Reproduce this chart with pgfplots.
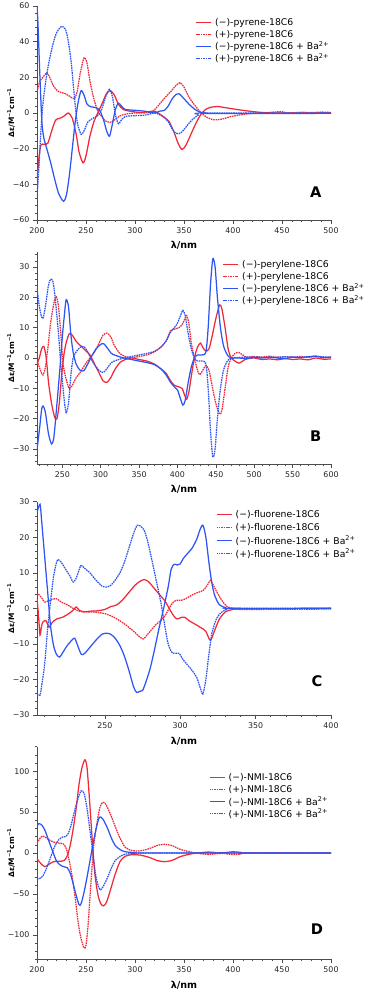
\documentclass[border=0pt]{standalone}
\usepackage{fontspec}
\setmainfont{DejaVu Sans}
\usepackage{pgfplots}
\pgfplotsset{compat=1.18}
\definecolor{cdred}{RGB}{240,40,55}
\definecolor{cdblue}{RGB}{45,85,245}

\tikzset{
  cdneg/.style={cdred, solid},
  cdpos/.style={cdred, dash pattern=on 1.6pt off 0.8pt},
  cdnegba/.style={cdblue, solid},
  cdposba/.style={cdblue, dash pattern=on 1.6pt off 0.8pt},
  legtext/.style={anchor=west, inner sep=0pt, font=\fontsize{9.3}{11}\selectfont},
}
\pgfplotsset{
  cdpanel/.style={
    scale only axis, width=294bp, clip mode=individual,
    axis x line*=bottom, axis y line*=left,
    axis line style={-, draw=black!70, line width=0.6pt},
    tick align=outside, tick style={black!70, line width=0.5pt},
    major tick length=4pt, minor tick length=2.2pt,
    ticklabel style={font=\fontsize{7.9}{9}\selectfont, text=black!85},
    xlabel={\textbf{λ/nm}},
    ylabel={\textbf{Δε/M\textsuperscript{−1}cm\textsuperscript{−1}}},
    xlabel style={font=\fontsize{9.6}{11}\selectfont, anchor=center},
    ylabel style={font=\fontsize{7.5}{9}\selectfont, at={(axis description cs:-0.088,0.5)}, anchor=center},
    every axis plot/.append style={smooth, tension=0.45, line width=1.25pt},
  },
}
% legend drawn by hand (page coordinates in bp, measured from the top):
% #1 x of line start, #2 y of first row, #3 row step, #4 compound
\newcommand{\cdleg}[4]{%
  \foreach \k/\sty/\txt in {0/cdneg/{(−)-#4-18C6}, 1/cdpos/{(+)-#4-18C6},
      2/cdnegba/{(−)-#4-18C6 + Ba\textsuperscript{2+}}, 3/cdposba/{(+)-#4-18C6 + Ba\textsuperscript{2+}}}{
    \draw[\sty, line width=1.6pt] (#1bp,{992bp-#2bp-\k*#3bp}) -- ++(15bp,0pt);
    \node[legtext] at ({#1bp+19bp},{992bp-#2bp-\k*#3bp}) {\txt};
  }%
}

\begin{document}
\begin{tikzpicture}
\useasboundingbox (0,0) rectangle (369bp,992bp);

% ---- A: pyrene
\begin{axis}[cdpanel, at={(37bp,772bp)}, anchor=south west, height=214bp,
  xmin=200, xmax=500, ymin=-60, ymax=60,
  xtick={200,250,...,500}, xticklabels={200,250,300,350,400,450,500},
  minor xtick={200,210,...,500},
  ytick={-60,-40,...,60}, yticklabels={−60,−40,−20,0,20,40,60},
  minor ytick={-60,-56,...,60},
  xlabel style={at={(axis description cs:0.5,-0.117)}}]
\addplot[cdneg] coordinates {(200,-38) (202,-25) (204,-18) (207,-17.5) (211,-17) (215,-10) (219,-4) (223,-3) (227,-2) (232,0) (236,-3) (240,-12) (243,-22) (247,-28) (250,-24) (254,-13) (258,-5) (262,0) (267,6) (271,11) (275,12.5) (279,10) (283,5) (288,2) (295,1) (305,0.3) (315,0.8) (320,1) (325,-0.5) (330,-2.5) (335,-5) (340,-11) (344,-17) (348,-20.5) (352,-18) (357,-12) (362,-6) (367,-1) (372,2) (378,3.3) (385,3.6) (392,3) (400,2.3) (410,1.5) (420,0.8) (430,0.3) (445,0) (500,0)};
\addplot[cdpos] coordinates {(200,12) (203,18) (206,20) (210,22.5) (213,20) (217,15) (222,12) (228,11) (233,9.5) (238,8) (241,12) (244,22) (248,31) (251,28) (254,18) (258,8) (262,1) (266,-2) (270,-4.5) (275,-5.2) (280,-3.5) (285,-1.5) (292,-0.5) (300,0) (310,0) (318,1) (322,3) (328,7) (333,10) (338,13) (342,15.5) (346,17) (350,14.5) (355,9) (360,5) (366,1) (372,-2) (380,-3.8) (388,-3.5) (398,-2) (410,-0.8) (420,-0.2) (430,0) (450,0.8) (455,0) (470,0.4) (480,0.2) (490,0.5) (500,0.3)};
\addplot[cdnegba] coordinates {(200,60) (201,50) (203,20) (205,-5) (207,-14) (210,-20) (214,-28) (218,-37) (222,-45) (227,-49.5) (230,-46) (233,-35) (236,-20) (239,-5) (242,6) (245,12.5) (248,10) (251,5) (255,3.5) (260,3) (264,1.5) (268,-4) (271,-10) (274,-13) (277,-6) (280,2) (283,5.5) (286,4) (290,2) (300,1.5) (310,1) (320,0) (325,1) (330,1.5) (334,4) (338,8) (342,10.5) (345,10.8) (350,8) (355,5) (360,2.5) (366,0.5) (372,0) (380,-0.3) (500,-0.2)};
\addplot[cdposba] coordinates {(200,-47) (202,-30) (204,-10) (206,5) (209,18) (212,28) (216,38) (220,45) (225,48.5) (229,47) (232,40) (235,28) (238,10) (241,-5) (245,-12) (248,-10) (252,-5) (257,-3) (262,-1.5) (266,2) (270,9) (274,13.3) (277,9) (280,-1) (283,-6) (286,-4) (290,-2) (300,-1.5) (310,-1.2) (320,0) (325,-1) (330,-2.5) (334,-5) (338,-9) (341,-11) (345,-11.6) (349,-10) (354,-6.5) (359,-3.5) (365,-1) (370,0) (500,0)};
\node[font=\bfseries\fontsize{14.7}{15}\selectfont] at (rel axis cs:0.948,0.131) {A};
\end{axis}

% ---- B: perylene
\begin{axis}[cdpanel, at={(37bp,527.7bp)}, anchor=south west, height=212.6bp,
  xmin=217, xmax=600, ymin=-35, ymax=35,
  xtick={250,300,...,600}, xticklabels={250,300,350,400,450,500,550,600},
  minor xtick={220,230,...,600},
  ytick={-30,-20,...,30}, yticklabels={−30,−20,−10,0,10,20,30},
  minor ytick={-34,-32,...,34},
  xlabel style={at={(axis description cs:0.5,-0.117)}}]
\addplot[cdneg] coordinates {(217,-2) (220,0) (223,3) (226,3.8) (229,0) (232,-8) (236,-15) (240,-19.5) (243,-20) (246,-15) (249,-6) (252,1) (255,5) (259,8) (263,7.5) (268,5.5) (274,4) (280,2.5) (286,1) (292,-2) (298,-5) (303,-7.5) (308,-8) (313,-6.5) (318,-4) (325,-1.5) (332,-0.5) (340,0) (350,-0.5) (360,-1) (370,-2) (378,-3.5) (385,-5) (391,-7.5) (396,-9) (402,-9.5) (406,-10) (409,-12) (412,-13.6) (415,-11) (418,-6) (422,0) (426,3.5) (430,4.9) (433,3.5) (437,2.3) (441,3) (445,7) (450,13) (455,17.5) (458,16) (462,10) (466,3) (470,0) (475,-1) (480,-1.7) (485,-1) (490,-0.3) (500,0) (510,-0.5) (520,-0.3) (530,-0.6) (540,-0.2) (550,-0.5) (560,-0.3) (570,-0.6) (580,0) (590,-0.4) (600,-0.3)};
\addplot[cdpos] coordinates {(217,-1) (220,-3) (223,-5) (225,-5.6) (228,-3) (231,3) (235,12) (239,18) (242,20.3) (245,17) (248,8) (251,-2) (255,-7) (259,-10) (263,-9) (268,-6.5) (274,-4.5) (280,-2) (286,0) (292,2) (298,5) (303,7.5) (308,8.2) (313,7) (318,4) (325,1.5) (332,0.5) (340,0) (350,0.5) (360,1) (370,2) (378,3.5) (385,5.5) (391,9) (396,9.5) (402,10) (406,11) (409,12.5) (412,14) (415,11) (418,5) (422,0) (426,-4) (429,-5.5) (433,-4) (437,-2.5) (441,-4) (445,-9) (450,-15) (455,-18.5) (458,-17) (462,-10) (466,-3) (470,0) (475,1.5) (480,1.8) (485,1) (490,0.3) (500,0.5) (510,0.3) (520,0.6) (530,0.2) (540,0.4) (550,0.2) (560,0.5) (570,0.2) (580,0.6) (590,0.1) (600,0.3)};
\addplot[cdnegba] coordinates {(217,-30) (220,-24) (223,-17) (225,-15.8) (228,-18) (232,-25) (236,-28.3) (239,-26) (243,-15) (247,-3) (250,7) (253,15) (255,19.2) (258,17) (261,8) (264,2) (268,-2) (273,-4) (278,-4.2) (283,-2) (288,0.5) (294,3) (300,4.5) (304,4.7) (308,3.5) (314,1.5) (320,0.8) (330,0) (340,-0.5) (350,-1) (360,-1.5) (370,-2.2) (378,-3.5) (385,-5.5) (391,-8) (396,-9.5) (400,-10.5) (404,-13.5) (407,-15.5) (410,-14) (414,-8) (418,-3) (422,0) (426,1) (432,1) (437,2) (440,10) (443,24) (446,32.6) (449,30) (452,20) (456,10) (460,4) (465,1) (470,0) (480,0) (490,-0.2) (500,0.2) (510,0) (520,0.3) (530,0) (540,-0.2) (550,0.3) (560,0.1) (570,0.4) (580,0.6) (590,0.2) (600,0.3)};
\addplot[cdposba] coordinates {(217,23) (220,17) (223,13.5) (225,13.2) (228,17) (232,24) (235,26) (238,25) (241,19) (245,8) (248,-2) (251,-10) (253,-15) (255,-18) (258,-15) (261,-6) (264,0) (268,2) (273,3.5) (278,3.8) (283,2) (288,-0.5) (294,-3) (300,-4.5) (304,-4.7) (308,-3.5) (314,-1.5) (320,-0.8) (330,0) (340,0.5) (350,1) (360,1.5) (370,2.2) (378,3.5) (385,5.5) (391,8.5) (396,10) (400,11.5) (404,14) (407,15.7) (410,14) (414,8) (418,3) (422,0) (426,-1) (432,-1) (437,-2) (440,-10) (443,-24) (446,-32.5) (449,-30) (452,-20) (456,-10) (460,-4) (465,-1) (470,0) (480,0.2) (500,0.3) (520,0.1) (540,0.4) (560,0.2) (580,0.5) (600,0.2)};
\node[font=\bfseries\fontsize{14.7}{15}\selectfont] at (rel axis cs:0.948,0.13) {B};
\end{axis}

% ---- C: fluorene
\begin{axis}[cdpanel, at={(37bp,277bp)}, anchor=south west, height=213.3bp,
  xmin=205, xmax=400, ymin=-30, ymax=30,
  xtick={250,300,350,400}, xticklabels={250,300,350,400},
  minor xtick={210,220,...,400},
  ytick={-30,-20,...,30}, yticklabels={−30,−20,−10,0,10,20,30},
  minor ytick={-30,-28,...,30},
  xlabel style={at={(axis description cs:0.5,-0.122)}}]
\addplot[cdneg] coordinates {(205,3) (206,-2) (207,-7.5) (208,-5) (209,-3.8) (211,-3.5) (213,-5.3) (215,-4) (218,-3) (222,-2.5) (226,-1.5) (229,-0.5) (231,0.4) (233,-0.5) (236,-1) (240,-0.8) (245,-0.7) (250,-0.3) (254,0.5) (258,1) (262,2.5) (266,4.5) (270,6.5) (273,7.5) (276,8.1) (279,7.5) (282,6) (285,4.5) (288,3) (290,2) (292,0.5) (294,-1) (296,-2.3) (298,-3) (301,-2.5) (303,-2.5) (306,-3.5) (310,-4.5) (314,-5.5) (317,-6.5) (320,-9) (323,-6) (326,-3) (330,-1) (335,-0.3) (340,-0.2) (400,0)};
\addplot[cdpos] coordinates {(205,3.5) (206,4) (208,3) (210,1.8) (212,2) (215,2.5) (218,2.7) (221,1.8) (225,1) (229,0) (233,-0.8) (237,-1) (241,-1) (246,-1.2) (250,-1.5) (255,-2.3) (260,-3.5) (265,-5) (270,-6.8) (273,-8) (275.5,-8.6) (278,-7.5) (281,-6) (284,-4.5) (287,-3.5) (290,-2) (292,-0.5) (294,1) (296,2) (298,2.3) (301,2.3) (304,2.8) (308,3.8) (312,4.5) (315,5) (318,6.5) (320,7.9) (322,6.5) (325,4) (328,2) (331,0.5) (335,0) (340,-0.3) (400,-0.2)};
\addplot[cdnegba] coordinates {(205,27) (207,29.3) (208,25) (210,15) (212,5) (214,-5) (216,-10.5) (218,-13) (220,-13.7) (222,-12.5) (225,-10.5) (228,-9) (230,-8.4) (232,-10.5) (234.5,-13) (237,-12.5) (240,-11) (244,-9) (248,-7.3) (251,-7) (254,-7.3) (257,-8.5) (260,-10.5) (263,-13.5) (266,-17.5) (269,-22) (271,-23.6) (273,-23.4) (275,-23.1) (277,-21) (280,-17) (283,-11.5) (286,-5.5) (289,0) (292,6) (294,11) (296,12.4) (298,12.2) (300,12.5) (302,14) (305,15.5) (308,17) (311,19.5) (313,22) (315,23.4) (317,20) (319,13) (321,7) (323,3.5) (326,1) (330,0.2) (335,0) (400,0)};
\addplot[cdposba] coordinates {(205,-24) (207,-24.5) (208,-22) (210,-16) (212,-6) (214,2) (216,9) (218,13) (219,13.7) (221,13) (224,11) (227,9) (229,7.4) (231,8.5) (234,12) (236,11.5) (240,10) (244,8) (248,6.3) (251,6) (254,6.5) (257,8) (260,10) (263,13) (266,17) (269,21) (271.5,23.4) (274,23) (276,22) (278,19.5) (281,14) (284,8) (287,2) (289,-3) (292,-10) (295,-12.6) (299,-12.6) (302,-14.5) (305,-16) (308,-17.5) (311,-19.5) (313,-22) (315,-24.1) (317,-20) (319,-13) (321,-7) (324,-3) (327,-1.2) (331,-0.3) (335,0) (400,0)};
\node[font=\bfseries\fontsize{14.7}{15}\selectfont] at (rel axis cs:0.952,0.16) {C};
\end{axis}

% ---- D: NMI
\begin{axis}[cdpanel, at={(37bp,32.7bp)}, anchor=south west, height=212.6bp,
  xmin=200, xmax=500, ymin=-130, ymax=130,
  xtick={200,250,...,500}, xticklabels={200,250,300,350,400,450,500},
  minor xtick={200,210,...,500},
  ytick={-100,-50,...,100}, yticklabels={−100,−50,0,50,100},
  minor ytick={-130,-120,...,130},
  xlabel style={at={(axis description cs:0.5,-0.12)}}]
\addplot[cdneg] coordinates {(200,-7) (204,-13) (208,-16.7) (212,-14) (216,-11) (220,-10) (225,-10) (228,-9) (231,-3) (234,10) (237,30) (240,55) (243,85) (246,105) (249,114) (251,105) (253,75) (255,40) (257,5) (259,-25) (262,-50) (265,-62) (268,-64.6) (271,-60) (275,-45) (280,-25) (285,-10) (290,-4) (297,-2) (305,-2.5) (315,-5.5) (322,-9) (330,-10.6) (338,-9) (345,-5) (352,-2.5) (360,-0.5) (368,0.5) (375,1.2) (382,0.5) (390,0.3) (400,1.5) (408,0.8) (415,0) (500,0)};
\addplot[cdpos] coordinates {(200,12) (203,18) (206,20.7) (210,18) (214,15) (218,13) (223,12) (227,11) (230,5) (233,-10) (236,-30) (239,-55) (242,-85) (245,-105) (248,-116) (250,-113) (252,-90) (254,-55) (256,-20) (258,10) (261,35) (264,55) (267,62) (270,60) (274,50) (279,35) (284,20) (290,7) (297,3) (305,2.5) (315,5.5) (322,9) (330,10.6) (338,9) (345,5) (352,2.5) (360,0.5) (368,-1) (375,-1.8) (382,-1) (390,-0.5) (400,-2) (408,-1.2) (415,0) (500,0)};
\addplot[cdnegba] coordinates {(200,33) (202,36) (205,34) (208,28) (212,15) (216,2) (220,-10) (224,-15) (228,-17) (231,-18) (234,-25) (237,-38) (240,-52) (243,-63.4) (245,-62) (248,-48) (251,-30) (254,-10) (257,10) (260,28) (263,42) (265,44) (268,40) (272,30) (276,18) (280,9) (285,4) (290,1.5) (300,0.5) (310,0) (500,0)};
\addplot[cdposba] coordinates {(200,-32) (203,-31) (206,-28) (210,-18) (214,-5) (218,8) (222,16) (226,19.5) (229,20) (232,24) (235,35) (238,50) (242,67) (245,76) (248,73) (251,55) (254,28) (257,0) (260,-28) (263,-42) (265,-45) (268,-40) (272,-30) (276,-18) (280,-9) (285,-4) (290,-1.5) (300,-0.5) (310,0) (500,0)};
\node[font=\bfseries\fontsize{14.7}{15}\selectfont] at (rel axis cs:0.952,0.14) {D};
\end{axis}

% legends
\cdleg{196}{22.5}{12}{pyrene}
\cdleg{223}{264.5}{12}{perylene}
\cdleg{216.5}{514.5}{13}{fluorene}
\cdleg{209.5}{777.5}{12}{NMI}
\end{tikzpicture}
\end{document}
